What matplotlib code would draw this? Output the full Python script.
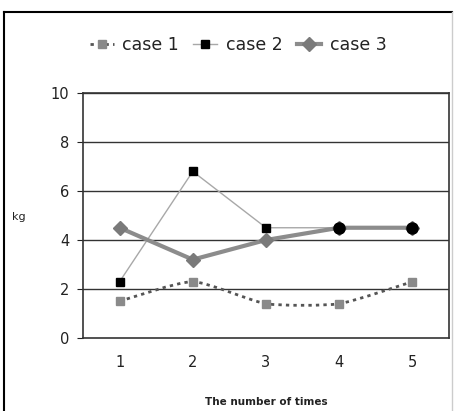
import matplotlib.pyplot as plt
import numpy as np
from matplotlib.path import Path
from matplotlib.patches import PathPatch
from matplotlib.lines import Line2D

times = [1, 2, 3, 4, 5]
case1 = [1.5, 2.3, 1.4, 1.4, 2.3]
case2 = [2.3, 6.8, 4.5, 4.5, 4.5]
case3 = [4.5, 3.2, 4.0, 4.5, 4.5]
y_ticks = [0, 2, 4, 6, 8, 10]


def smooth_path(xs, ys, k=0.1):
    # bezier through the points, like Excel's "smoothed line"
    pts = np.column_stack([xs, ys]).astype(float)
    verts = [pts[0]]
    codes = [Path.MOVETO]
    n = len(pts)
    for i in range(n - 1):
        p0 = pts[max(i - 1, 0)]
        p1 = pts[i]
        p2 = pts[i + 1]
        p3 = pts[min(i + 2, n - 1)]
        c1 = p1 + (p2 - p0) * k
        c2 = p2 - (p3 - p1) * k
        verts += [c1, c2, p2]
        codes += [Path.CURVE4] * 3
    return Path(verts, codes)


fig = plt.figure(figsize=(4.67, 4.11), dpi=100)
ax = fig.add_axes([83 / 467, 1 - 338 / 411, 366 / 467, 245 / 411])

for y in y_ticks[1:]:
    ax.axhline(y, color="#333333", lw=1.0, zorder=1)

dot = (0, (1.2, 1.5))
ax.add_patch(PathPatch(smooth_path(times, case1), fill=False,
                       edgecolor="#555555", lw=2.0, linestyle=dot, zorder=2))
ax.plot(times, case1, ls="none", marker="s", ms=5.5, color="#8a8a8a",
        zorder=3)
ax.plot(times, case2, color="#a8a8a8", lw=1.0, marker="s", ms=6,
        mfc="black", mec="black", zorder=3)
ax.plot(times, case3, color="#8c8c8c", lw=3.0, marker="D", ms=7,
        mfc="#7a7a7a", mec="#7a7a7a", zorder=4)
ax.plot(times[3:], case2[3:], ls="none", marker="o", ms=8, color="black",
        zorder=5)

ax.set_xlim(0.5, 5.5)
ax.set_ylim(0, 10)
ax.set_xticks(times)
ax.set_yticks(y_ticks)
ax.tick_params(axis="x", length=0, pad=12, labelsize=10.5, colors="#222222")
ax.tick_params(axis="y", length=4, pad=6, labelsize=10.5, colors="#222222",
               direction="out")
for s in ax.spines.values():
    s.set_color("#333333")
    s.set_linewidth(1.2)

ax.set_xlabel("The number of times", fontsize=7.5, fontweight="bold",
              labelpad=20, color="#222222")
fig.text(12 / 467, 1 - 217 / 411, "kg", fontsize=8, va="center",
         color="#222222")

handles = [
    Line2D([], [], color="#555555", lw=2.0, linestyle=dot,
           marker="s", ms=5.5, mfc="#8a8a8a", mec="#8a8a8a"),
    Line2D([], [], color="#a8a8a8", lw=1.0, marker="s", ms=6,
           mfc="black", mec="black"),
    Line2D([], [], color="#8c8c8c", lw=3.0, marker="D", ms=7,
           mfc="#7a7a7a", mec="#7a7a7a"),
]
fig.legend(handles, ["case 1", "case 2", "case 3"], loc="center",
           bbox_to_anchor=(238 / 467, 1 - 45 / 411), ncol=3, frameon=False,
           fontsize=12.5, handlelength=1.4, handletextpad=0.5,
           columnspacing=0.8, labelcolor="#222222")

# outer chart border
fig.add_artist(Line2D([4 / 467, 4 / 467], [0, 1 - 12 / 411],
                      transform=fig.transFigure, color="black", lw=1.5))
fig.add_artist(Line2D([4 / 467, 452 / 467], [1 - 12 / 411, 1 - 12 / 411],
                      transform=fig.transFigure, color="black", lw=1.5))
fig.add_artist(Line2D([452 / 467, 452 / 467], [0, 1 - 12 / 411],
                      transform=fig.transFigure, color="#cccccc", lw=1.0))

fig.savefig("out.png", dpi=100)
